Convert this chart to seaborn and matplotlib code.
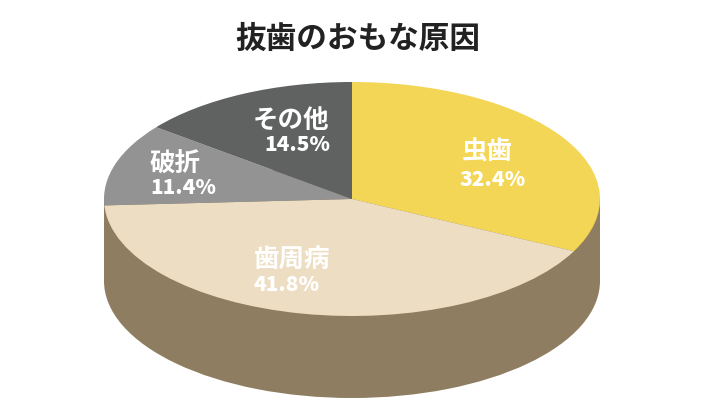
import numpy as np
import matplotlib
matplotlib.use("Agg")
import matplotlib.pyplot as plt
import seaborn as sns

# data
categories = ["虫歯", "歯周病", "破折", "その他"]
shares = [32.4, 41.8, 11.4, 14.5]
title = "抜歯のおもな原因"

pie_colors = sns.color_palette(["#F3D655", "#EDDEC3", "#939393", "#606161"])
side_color = "#8E7D60"

sns.set_theme(style="white")
plt.rcParams["font.family"] = ["Noto Sans CJK JP", "DejaVu Sans"]

W, H = 704, 420
cx, cy, rx, ry = 352.0, 199.0, 248.0, 117.0
depth = 82.0 / ry

fig = plt.figure(figsize=(W / 100, H / 100), dpi=100, facecolor="white")
ax = fig.add_axes([0, 0, 1, 1])

# side of the disc: a lower pie and the band joining it to the top
ax.pie([1], colors=[side_color], radius=1, center=(0, -depth),
       wedgeprops={"linewidth": 0})
xs = np.array([-1.0, 1.0])
ax.fill_between(xs, -depth, 0, color=side_color, linewidth=0)

# top of the disc
ax.pie(shares, colors=pie_colors, radius=1, startangle=90, counterclock=False,
       normalize=True, wedgeprops={"linewidth": 0})

# squash the circle to an ellipse
ax.set_aspect("auto")
ax.set_xlim(-cx / rx, (W - cx) / rx)
ax.set_ylim(-(H - cy) / ry, cy / ry)
ax.axis("off")


def label(x, y, s, size, color="white", weight="bold"):
    fig.text(x / W, 1 - y / H, s, fontsize=size, fontweight=weight, color=color,
             ha="center", va="center")


label(358, 39, title, 22.1, "#222222")

name_pos = [(487, 152), (292.5, 259), (175, 163), (291, 120)]
pct_pos = [(493, 180), (286.5, 285), (183, 188), (297.5, 145)]
for name, share, np_, pp in zip(categories, shares, name_pos, pct_pos):
    label(np_[0], np_[1], name, 18.4)
    label(pp[0], pp[1], f"{share}%", 15, weight="black")

fig.savefig("out.png", dpi=100)
